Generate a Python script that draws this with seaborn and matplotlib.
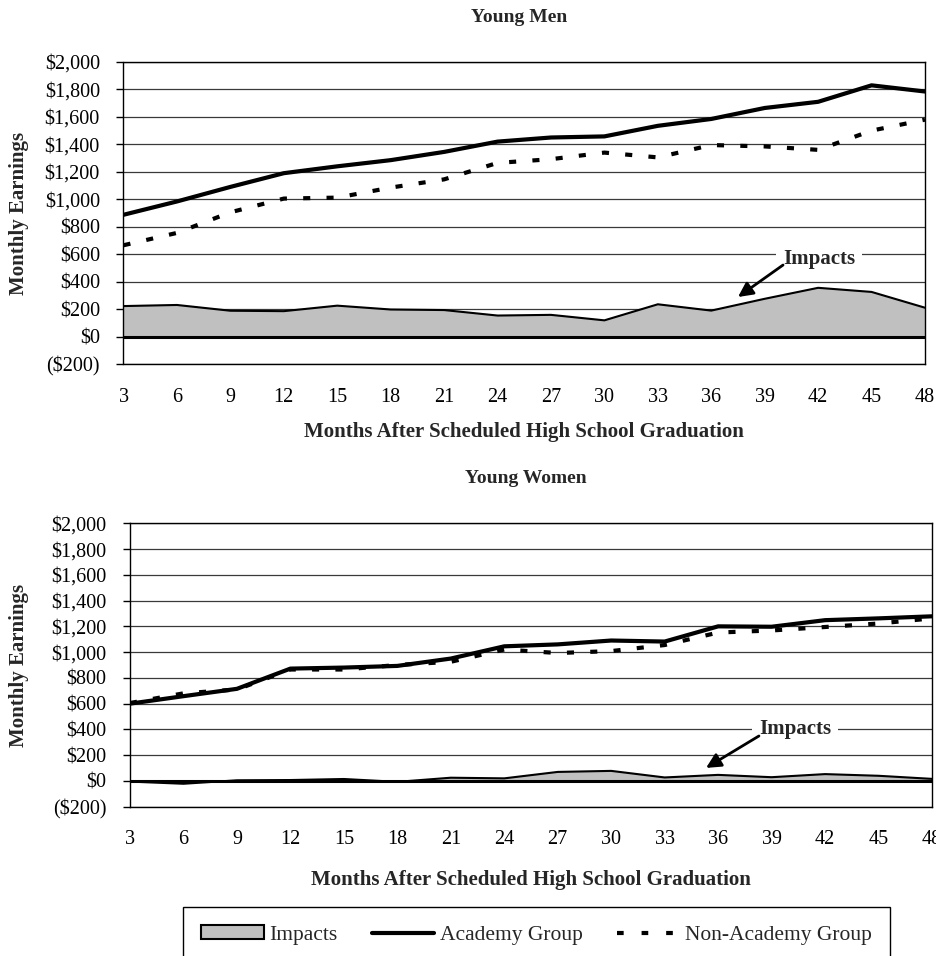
import numpy as np
import pandas as pd
import matplotlib
matplotlib.use("Agg")
import matplotlib.pyplot as plt
import seaborn as sns
from matplotlib.ticker import FuncFormatter
from matplotlib.patches import Patch
from matplotlib.lines import Line2D

# ---------------- data ----------------
months = [3, 6, 9, 12, 15, 18, 21, 24, 27, 30, 33, 36, 39, 42, 45, 48]

men_academy = [887, 984, 1090, 1190, 1240, 1285, 1345, 1420, 1450, 1458, 1535, 1585, 1665, 1710, 1830, 1785]
men_non_academy = [665, 755, 905, 1005, 1012, 1085, 1145, 1265, 1292, 1340, 1305, 1395, 1385, 1360, 1500, 1580]
men_impacts = [222, 230, 188, 185, 225, 197, 193, 153, 158, 118, 235, 189, 275, 355, 325, 210]

women_academy = [600, 658, 715, 872, 880, 893, 950, 1045, 1060, 1090, 1082, 1200, 1197, 1248, 1262, 1278]
women_non_academy = [605, 680, 710, 865, 865, 900, 925, 1020, 993, 1008, 1055, 1152, 1168, 1195, 1222, 1262]
women_impacts = [-5, -22, 5, 7, 15, -7, 25, 20, 70, 78, 27, 47, 29, 53, 40, 16]

y_ticks = list(range(-200, 2001, 200))
titles = ["Young Men", "Young Women"]
x_label = "Months After Scheduled High School Graduation"
y_label = "Monthly Earnings"
series_labels = ["Impacts", "Academy Group", "Non-Academy Group"]

# ---------------- style ----------------
sns.set_theme(style="white")
plt.rcParams['font.family'] = ['Liberation Serif', 'DejaVu Serif']

W, H = 937, 956
fig = plt.figure(figsize=(W / 100, H / 100), dpi=100)

def px_axes(left, top, right, bottom):
    return fig.add_axes([left / W, 1 - bottom / H, (right - left) / W, (bottom - top) / H])

ax1 = px_axes(123.5, 62, 925, 364)
ax2 = px_axes(130, 523.3, 932, 806.7)

def money(v, pos):
    v = int(round(v))
    if v < 0:
        return f"(${-v:,})"
    return f"${v:,}"

FILL = '#c0c0c0'
DASH = (0, (1.7, 3.9))
DASH_LEG = (0, (1.6, 4.3))
TICK_FS = 14.5
LAB_FS = 15
LEG_FS = 15.5

panels = [
    (ax1, men_academy, men_non_academy, men_impacts, titles[0],
     (42.05, 565), (40.03, 521), (37.5, 288), 62, 431.7),
    (ax2, women_academy, women_non_academy, women_impacts, titles[1],
     (40.31, 404), (38.29, 349), (35.32, 101), 523.3, 880),
]

for ax, acad, non, imp, title, txt_pos, tail, head, top_px, xlab_px in panels:
    df = pd.DataFrame({"Month": months, "Academy Group": acad,
                       "Non-Academy Group": non, "Impacts": imp})
    ax.fill_between(df["Month"], 0, df["Impacts"], facecolor=FILL, edgecolor='none', zorder=2)
    sns.lineplot(data=df, x="Month", y="Impacts", ax=ax, color='black', lw=1.5, zorder=3)
    ax.axhline(0, color='black', lw=2.2, zorder=3.5)
    sns.lineplot(data=df, x="Month", y="Academy Group", ax=ax, color='black', lw=3, zorder=4)
    sns.lineplot(data=df, x="Month", y="Non-Academy Group", ax=ax, color='black', lw=3,
                 linestyle=DASH, zorder=4)

    ax.set_xlim(months[0], months[-1])
    ax.set_ylim(y_ticks[0], y_ticks[-1])
    ax.set_xticks(months)
    ax.set_xticklabels([str(m) for m in months])
    ax.set_yticks(y_ticks)
    ax.yaxis.set_major_formatter(FuncFormatter(money))
    ax.yaxis.grid(True, color='#3a3a3a', lw=0.9)
    ax.xaxis.grid(False)
    ax.set_axisbelow(True)
    ax.tick_params(axis='y', left=True, direction='out', length=5, width=1,
                   color='black', pad=12, labelsize=TICK_FS, labelcolor='black')
    ax.tick_params(axis='x', bottom=False, length=0, pad=17, labelsize=TICK_FS,
                   labelcolor='black')
    for s in ax.spines.values():
        s.set_visible(True)
        s.set_color('black')
        s.set_linewidth(1.0)
    ax.set_xlabel("")
    ax.set_ylabel("")

    ax.text(txt_pos[0], txt_pos[1], series_labels[0], ha='center', va='center',
            fontsize=LAB_FS, fontweight='bold', zorder=6,
            bbox=dict(facecolor='white', edgecolor='none', pad=5))
    ax.annotate("", xy=head, xytext=tail,
                arrowprops=dict(arrowstyle='-|>', color='black', lw=2,
                                mutation_scale=22, shrinkA=0, shrinkB=0), zorder=6)

    bb = ax.get_position()
    cx = (bb.x0 + bb.x1) / 2
    cy = (bb.y0 + bb.y1) / 2
    fig.text(cx - 5 / W, 1 - (top_px - 45) / H, title, ha='center', va='center',
             fontsize=LAB_FS - 1, fontweight='bold')
    fig.text(cx, 1 - xlab_px / H, x_label, ha='center', va='center',
             fontsize=LAB_FS, fontweight='bold')
    fig.text(19 / W, cy, y_label, ha='center', va='center', rotation=90,
             fontsize=LAB_FS, fontweight='bold')

handles = [
    Patch(facecolor=FILL, edgecolor='black', linewidth=1.5, label=series_labels[0]),
    Line2D([], [], color='black', lw=3, label=series_labels[1]),
    Line2D([], [], color='black', lw=3, linestyle=DASH_LEG, label=series_labels[2]),
]
leg = fig.legend(handles=handles, ncol=3, loc='upper left',
                 bbox_to_anchor=(183 / W, 1 - 907 / H), frameon=True, fancybox=False,
                 edgecolor='black', framealpha=1, fontsize=LEG_FS,
                 handlelength=2.9, handleheight=0.6, handletextpad=0.25,
                 columnspacing=1.6, borderpad=0.85, borderaxespad=0)
leg.get_frame().set_linewidth(1.0)

fig.savefig("out.png", dpi=100)
